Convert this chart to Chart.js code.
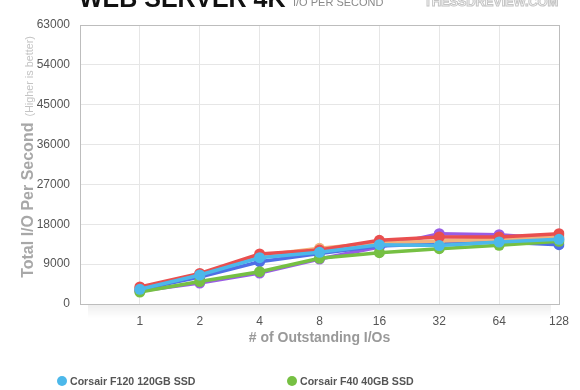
<!DOCTYPE html>
<html>
<head>
<meta charset="utf-8">
<script src="https://cdn.jsdelivr.net/npm/chart.js@4.4.1/dist/chart.umd.min.js"></script>
<style>
  html, body { margin: 0; padding: 0; background: #fff; }
  #wrap { position: relative; width: 580px; height: 390px; overflow: hidden; font-family: "Liberation Sans", Arial, sans-serif; }
  #chart { position: absolute; left: 0; top: 0; }
  .hdr { position: absolute; white-space: nowrap; line-height: 1; }
  #title { left: 79px; top: -14px; font-size: 25px; font-weight: bold; color: #111; }
  #sub { left: 293px; top: -3px; font-size: 11px; color: #8a8a8a; }
  #logo { left: 424px; top: -5px; font-size: 13px; font-weight: bold; color: #fff; -webkit-text-stroke: 1px #c4c4c4; letter-spacing: -0.2px; }
  #legend { position: absolute; left: 0; top: 374px; width: 580px; height: 16px; }
  .item { position: absolute; top: 0; font-size: 10.6px; font-weight: bold; color: #555; white-space: nowrap; line-height: 14px; }
  .dot { position: absolute; top: 2px; width: 10px; height: 10px; border-radius: 50%; }
</style>
</head>
<body>
<div id="wrap">
  <canvas id="chart" width="580" height="390"></canvas>
  <div class="hdr" id="title">WEB SERVER 4K</div>
  <div class="hdr" id="sub">I/O PER SECOND</div>
  <div class="hdr" id="logo">THESSDREVIEW.COM</div>
  <div id="legend"></div>
</div>
<script>
// x categories: first slot is empty (y axis sits there)
const labels = ['', '1', '2', '4', '8', '16', '32', '64', '128'];
const yTicks = [0, 9000, 18000, 27000, 36000, 45000, 54000, 63000];

const f120 = [3320, 6550, 10450, 11670, 13390, 13200, 14000, 14610];
const f40 = [2700, 5080, 7290, 10320, 11580, 12490, 13250, 14160];
const redSeries = [3840, 6890, 11290, 12190, 14380, 15130, 15130, 15870];
const orangeSeries = [3600, 6660, 10950, 12580, 13840, 14230, 14610, 15130];
const blueSeries = [3270, 6100, 9550, 11400, 13100, 13620, 14000, 13390];
const purpleSeries = [2940, 4740, 7000, 10160, 12870, 15870, 15650, 14700];

const names = ['Corsair F120 120GB SSD', 'Corsair F40 40GB SSD', '', '', '', ''];
const colors = ['#4cb8ea', '#76c043', '#e94f4f', '#f2b27c', '#4f6fe6', '#9a5ce4'];
const series = [f120, f40, redSeries, orangeSeries, blueSeries, purpleSeries];

const datasets = series.map((s, i) => ({
  label: names[i],
  data: [null].concat(s),
  borderColor: colors[i],
  backgroundColor: colors[i],
  borderWidth: 3.5,
  pointRadius: 5.5,
  pointBorderWidth: 0,
  pointBackgroundColor: colors[i],
  tension: 0
}));

// legend (only the visible entries)
const legend = document.getElementById('legend');
const legendX = [57, 287];
[0, 1].forEach(i => {
  const d = document.createElement('div');
  d.className = 'dot';
  d.style.left = legendX[i] + 'px';
  d.style.background = colors[i];
  legend.appendChild(d);
  const t = document.createElement('div');
  t.className = 'item';
  t.style.left = (legendX[i] + 13) + 'px';
  t.textContent = names[i];
  legend.appendChild(t);
});

const frame = {
  id: 'frame',
  beforeDatasetsDraw(chart) {
    const { ctx, chartArea: a } = chart;
    ctx.save();
    // soft shadow under the plot
    const g = ctx.createLinearGradient(0, a.bottom, 0, a.bottom + 14);
    g.addColorStop(0, 'rgba(0,0,0,0.07)');
    g.addColorStop(1, 'rgba(0,0,0,0)');
    ctx.fillStyle = g;
    ctx.fillRect(a.left + 8, a.bottom + 1, a.right - a.left - 16, 14);
    ctx.strokeStyle = '#bdbdbd';
    ctx.lineWidth = 1;
    ctx.strokeRect(a.left + 0.5, a.top + 0.5, a.right - a.left, a.bottom - a.top);
    ctx.restore();
  },
  afterDraw(chart) {
    const { ctx } = chart;
    ctx.save();
    ctx.translate(27, 157);
    ctx.rotate(-Math.PI / 2);
    ctx.textBaseline = 'alphabetic';
    const t1 = 'Total I/O Per Second';
    const t2 = '(Higher is better)';
    ctx.font = 'bold 16px "Liberation Sans", Arial, sans-serif';
    const w1 = ctx.measureText(t1).width;
    ctx.font = '10.8px "Liberation Sans", Arial, sans-serif';
    const w2 = ctx.measureText(t2).width;
    const gap = 6;
    let x = -(w1 + gap + w2) / 2;
    ctx.font = 'bold 16px "Liberation Sans", Arial, sans-serif';
    ctx.fillStyle = '#a8a8a8';
    ctx.fillText(t1, x, 5.5);
    ctx.font = '10.8px "Liberation Sans", Arial, sans-serif';
    ctx.fillStyle = '#c4c4c4';
    ctx.fillText(t2, x + w1 + gap, 5.5);
    ctx.restore();
  }
};

new Chart(document.getElementById('chart'), {
  type: 'line',
  data: { labels: labels, datasets: datasets },
  options: {
    responsive: false,
    animation: false,
    layout: { padding: { left: 0, right: 21, top: 25, bottom: 43 } },
    plugins: { legend: { display: false }, tooltip: { enabled: false } },
    scales: {
      x: {
        type: 'category',
        offset: false,
        grid: { color: '#e6e6e6', drawTicks: false },
        border: { display: false },
        ticks: { color: '#555', padding: 10, font: { size: 12, family: '"Liberation Sans", Arial, sans-serif' }, maxRotation: 0, autoSkip: false },
        title: { display: true, text: '# of Outstanding I/Os', color: '#999', padding: 0, font: { size: 14, weight: 'bold', family: '"Liberation Sans", Arial, sans-serif' } },
        afterFit(scale) { scale.height = 43; }
      },
      y: {
        min: 0,
        max: 63000,
        grid: { color: '#e6e6e6', drawTicks: false },
        border: { display: false },
        afterBuildTicks(scale) { scale.ticks = yTicks.map(v => ({ value: v })); },
        ticks: { color: '#555', padding: 10, font: { size: 12, family: '"Liberation Sans", Arial, sans-serif' }, callback: v => String(v) },
        afterFit(scale) { scale.width = 80; }
      }
    }
  },
  plugins: [frame]
});
</script>
</body>
</html>
